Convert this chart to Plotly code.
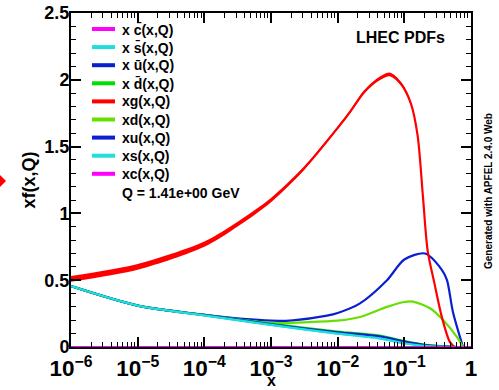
import plotly.graph_objects as go

# ---- data (log10 x, value of xf(x,Q)) ----
lx_g = [-6, -5, -4, -3.5, -3, -2.5, -2, -1.8, -1.6, -1.4, -1.22, -1.05, -0.9, -0.8, -0.72, -0.65, -0.55, -0.435, -0.32, -0.25]
xg = [0.51, 0.60, 0.77, 0.92, 1.10, 1.34, 1.64, 1.77, 1.91, 2.00, 2.04, 1.97, 1.82, 1.58, 1.12, 0.72, 0.48, 0.22, 0.04, 0.0]
xg_err = [0.022, 0.022, 0.02, 0.018, 0.016, 0.013, 0.011, 0.011, 0.012, 0.013, 0.014, 0.013, 0.011, 0.009, 0.008, 0.007, 0.006, 0.005, 0.004, 0.002]

lx_u = [-6, -5, -4, -3, -2.67, -2.16, -2, -1.665, -1.26, -1, -0.69, -0.435, -0.36, -0.27, -0.12]
xu = [0.456, 0.31, 0.24, 0.197, 0.20, 0.235, 0.255, 0.327, 0.50, 0.655, 0.70, 0.576, 0.50, 0.26, 0.0]

lx_d = [-6, -5, -4, -3, -2.5, -2, -1.665, -1.26, -1, -0.87, -0.615, -0.415, -0.215, -0.12]
xd = [0.456, 0.31, 0.24, 0.18, 0.185, 0.197, 0.225, 0.30, 0.337, 0.34, 0.29, 0.20, 0.077, 0.0]

lx_sea = [-6, -5, -4, -3, -2, -1.37, -1, -0.7, -0.4, -0.2]
xubar = [0.456, 0.31, 0.24, 0.17, 0.11, 0.08, 0.04, 0.015, 0.004, 0.0]
xdbar = [0.456, 0.31, 0.24, 0.175, 0.115, 0.085, 0.045, 0.018, 0.005, 0.0]
xsbar = [0.456, 0.31, 0.237, 0.165, 0.10, 0.065, 0.028, 0.009, 0.002, 0.0]
xs = [0.456, 0.31, 0.237, 0.165, 0.10, 0.065, 0.028, 0.009, 0.002, 0.0]

lx_c = [-6, -4, -2, 0]
xc = [0.0, 0.0, 0.0, 0.0]
xcbar = [0.0, 0.0, 0.0, 0.0]

y_ticks = [0, 0.5, 1, 1.5, 2, 2.5]
legend_labels = ["x c\u0304(x,Q)", "x s\u0304(x,Q)", "x u\u0304(x,Q)", "x d\u0304(x,Q)", "xg(x,Q)",
                 "xd(x,Q)", "xu(x,Q)", "xs(x,Q)", "xc(x,Q)"]

MAG = "#ff00ff"
CYAN = "#22dddd"
BLUE = "#0a1fd0"
GREEN = "#00dd00"
YGREEN = "#66e000"
RED = "#ff0000"

FONT = "Liberation Sans"


def X(lx):
    return [10 ** v for v in lx]


W, H = 499, 390
L, R, T, B = 71, 28, 13, 43   # plot area on page: x 71..471, y 13..347
PW, PH = W - L - R, H - T - B


def px_x(p):
    return (p - L) / PW


def px_y(p):
    return (H - B - p) / PH


fig = go.Figure()

# gluon uncertainty band
g_hi = [v + e for v, e in zip(xg, xg_err)]
g_lo = [v - e for v, e in zip(xg, xg_err)]
fig.add_trace(go.Scatter(x=X(lx_g), y=g_hi, mode="lines", line=dict(width=0, color=RED, shape="spline", smoothing=0.8),
                         showlegend=False, hoverinfo="skip"))
fig.add_trace(go.Scatter(x=X(lx_g), y=g_lo, mode="lines", line=dict(width=0, color=RED, shape="spline", smoothing=0.8),
                         fill="tonexty", fillcolor=RED, showlegend=False, hoverinfo="skip"))

# (label, x, y, colour) in legend order
series = [
    (legend_labels[0], lx_c, xcbar, MAG),
    (legend_labels[1], lx_sea, xsbar, CYAN),
    (legend_labels[2], lx_sea, xubar, BLUE),
    (legend_labels[3], lx_sea, xdbar, GREEN),
    (legend_labels[4], lx_g, xg, RED),
    (legend_labels[5], lx_d, xd, YGREEN),
    (legend_labels[6], lx_u, xu, BLUE),
    (legend_labels[7], lx_sea, xs, CYAN),
    (legend_labels[8], lx_c, xc, MAG),
]
# draw order: later in legend drawn first, so c-bar ends on top
for name, lx, vals, col in reversed(series):
    fig.add_trace(go.Scatter(x=X(lx), y=vals, mode="lines", name=name, showlegend=False,
                             line=dict(color=col, width=2.2, shape="spline", smoothing=0.8)))

axis_common = dict(showline=True, linecolor="black", linewidth=2, mirror="ticks", ticks="inside",
                   ticklen=10, tickwidth=1.5, tickcolor="black", showgrid=False, zeroline=False,
                   ticklabeloverflow="allow",
                   tickfont=dict(family=FONT, size=18, color="black", weight="bold"))

fig.update_xaxes(type="log", range=[-6, 0], dtick=1, exponentformat="power", ticklabelstandoff=1,
                 minor=dict(ticks="inside", ticklen=5, tickwidth=1, tickcolor="black", dtick="D1"),
                 **axis_common)
fig.update_yaxes(range=[0, 2.5], tickvals=y_ticks, ticktext=[f"{v:g}" for v in y_ticks],
                 ticklabelstandoff=-4,
                 minor=dict(ticks="inside", ticklen=5, tickwidth=1, tickcolor="black", dtick=0.1),
                 title=dict(text="xf(x,Q)", font=dict(family=FONT, size=18, color="black", weight="bold"), standoff=4),
                 **axis_common)

shapes = [
    dict(type="path", xref="paper", yref="paper", fillcolor=RED, line=dict(width=0),
         path=f"M {px_x(0)} {px_y(175)} L {px_x(6)} {px_y(181)} L {px_x(0)} {px_y(187)} Z"),
]
annotations = [
    dict(text="x", x=px_x(271), y=px_y(380), xref="paper", yref="paper",
         xanchor="center", yanchor="middle", showarrow=False,
         font=dict(family=FONT, size=16, color="black", weight="bold")),
    dict(text="Q = 1.41e+00 GeV", x=px_x(120), y=px_y(193), xref="paper", yref="paper",
         xanchor="left", yanchor="middle", showarrow=False,
         font=dict(family=FONT, size=14, color="black", weight="bold")),
    dict(text="LHEC PDFs", x=px_x(400), y=px_y(37), xref="paper", yref="paper",
         xanchor="center", yanchor="middle", showarrow=False,
         font=dict(family=FONT, size=16, color="black", weight="bold")),
    dict(text="Generated with APFEL 2.4.0 Web", x=px_x(488), y=px_y(191), xref="paper", yref="paper",
         xanchor="center", yanchor="middle", showarrow=False, textangle=-90,
         font=dict(family=FONT, size=10, color="black", weight="bold")),
]

# manual legend
for i, (name, lx, vals, col) in enumerate(series):
    yrow = 29 + 18.1 * i
    shapes.append(dict(type="line", xref="paper", yref="paper",
                       x0=px_x(92), x1=px_x(115), y0=px_y(yrow), y1=px_y(yrow),
                       line=dict(color=col, width=4)))
    annotations.append(dict(text=name, x=px_x(120), y=px_y(yrow), xref="paper", yref="paper",
                            xanchor="left", yanchor="middle", showarrow=False,
                            font=dict(family=FONT, size=14, color="black", weight="bold")))

fig.update_layout(
    width=W, height=H,
    margin=dict(l=L, r=R, t=T, b=B, autoexpand=False),
    paper_bgcolor="white", plot_bgcolor="white",
    showlegend=False,
    annotations=annotations,
    shapes=shapes,
)

# remove the default page margin so the figure sits at the top-left corner
fig.write_html("out.html", config={"displayModeBar": False},
               post_script="document.body.style.margin='0';document.body.style.overflow='hidden';")
